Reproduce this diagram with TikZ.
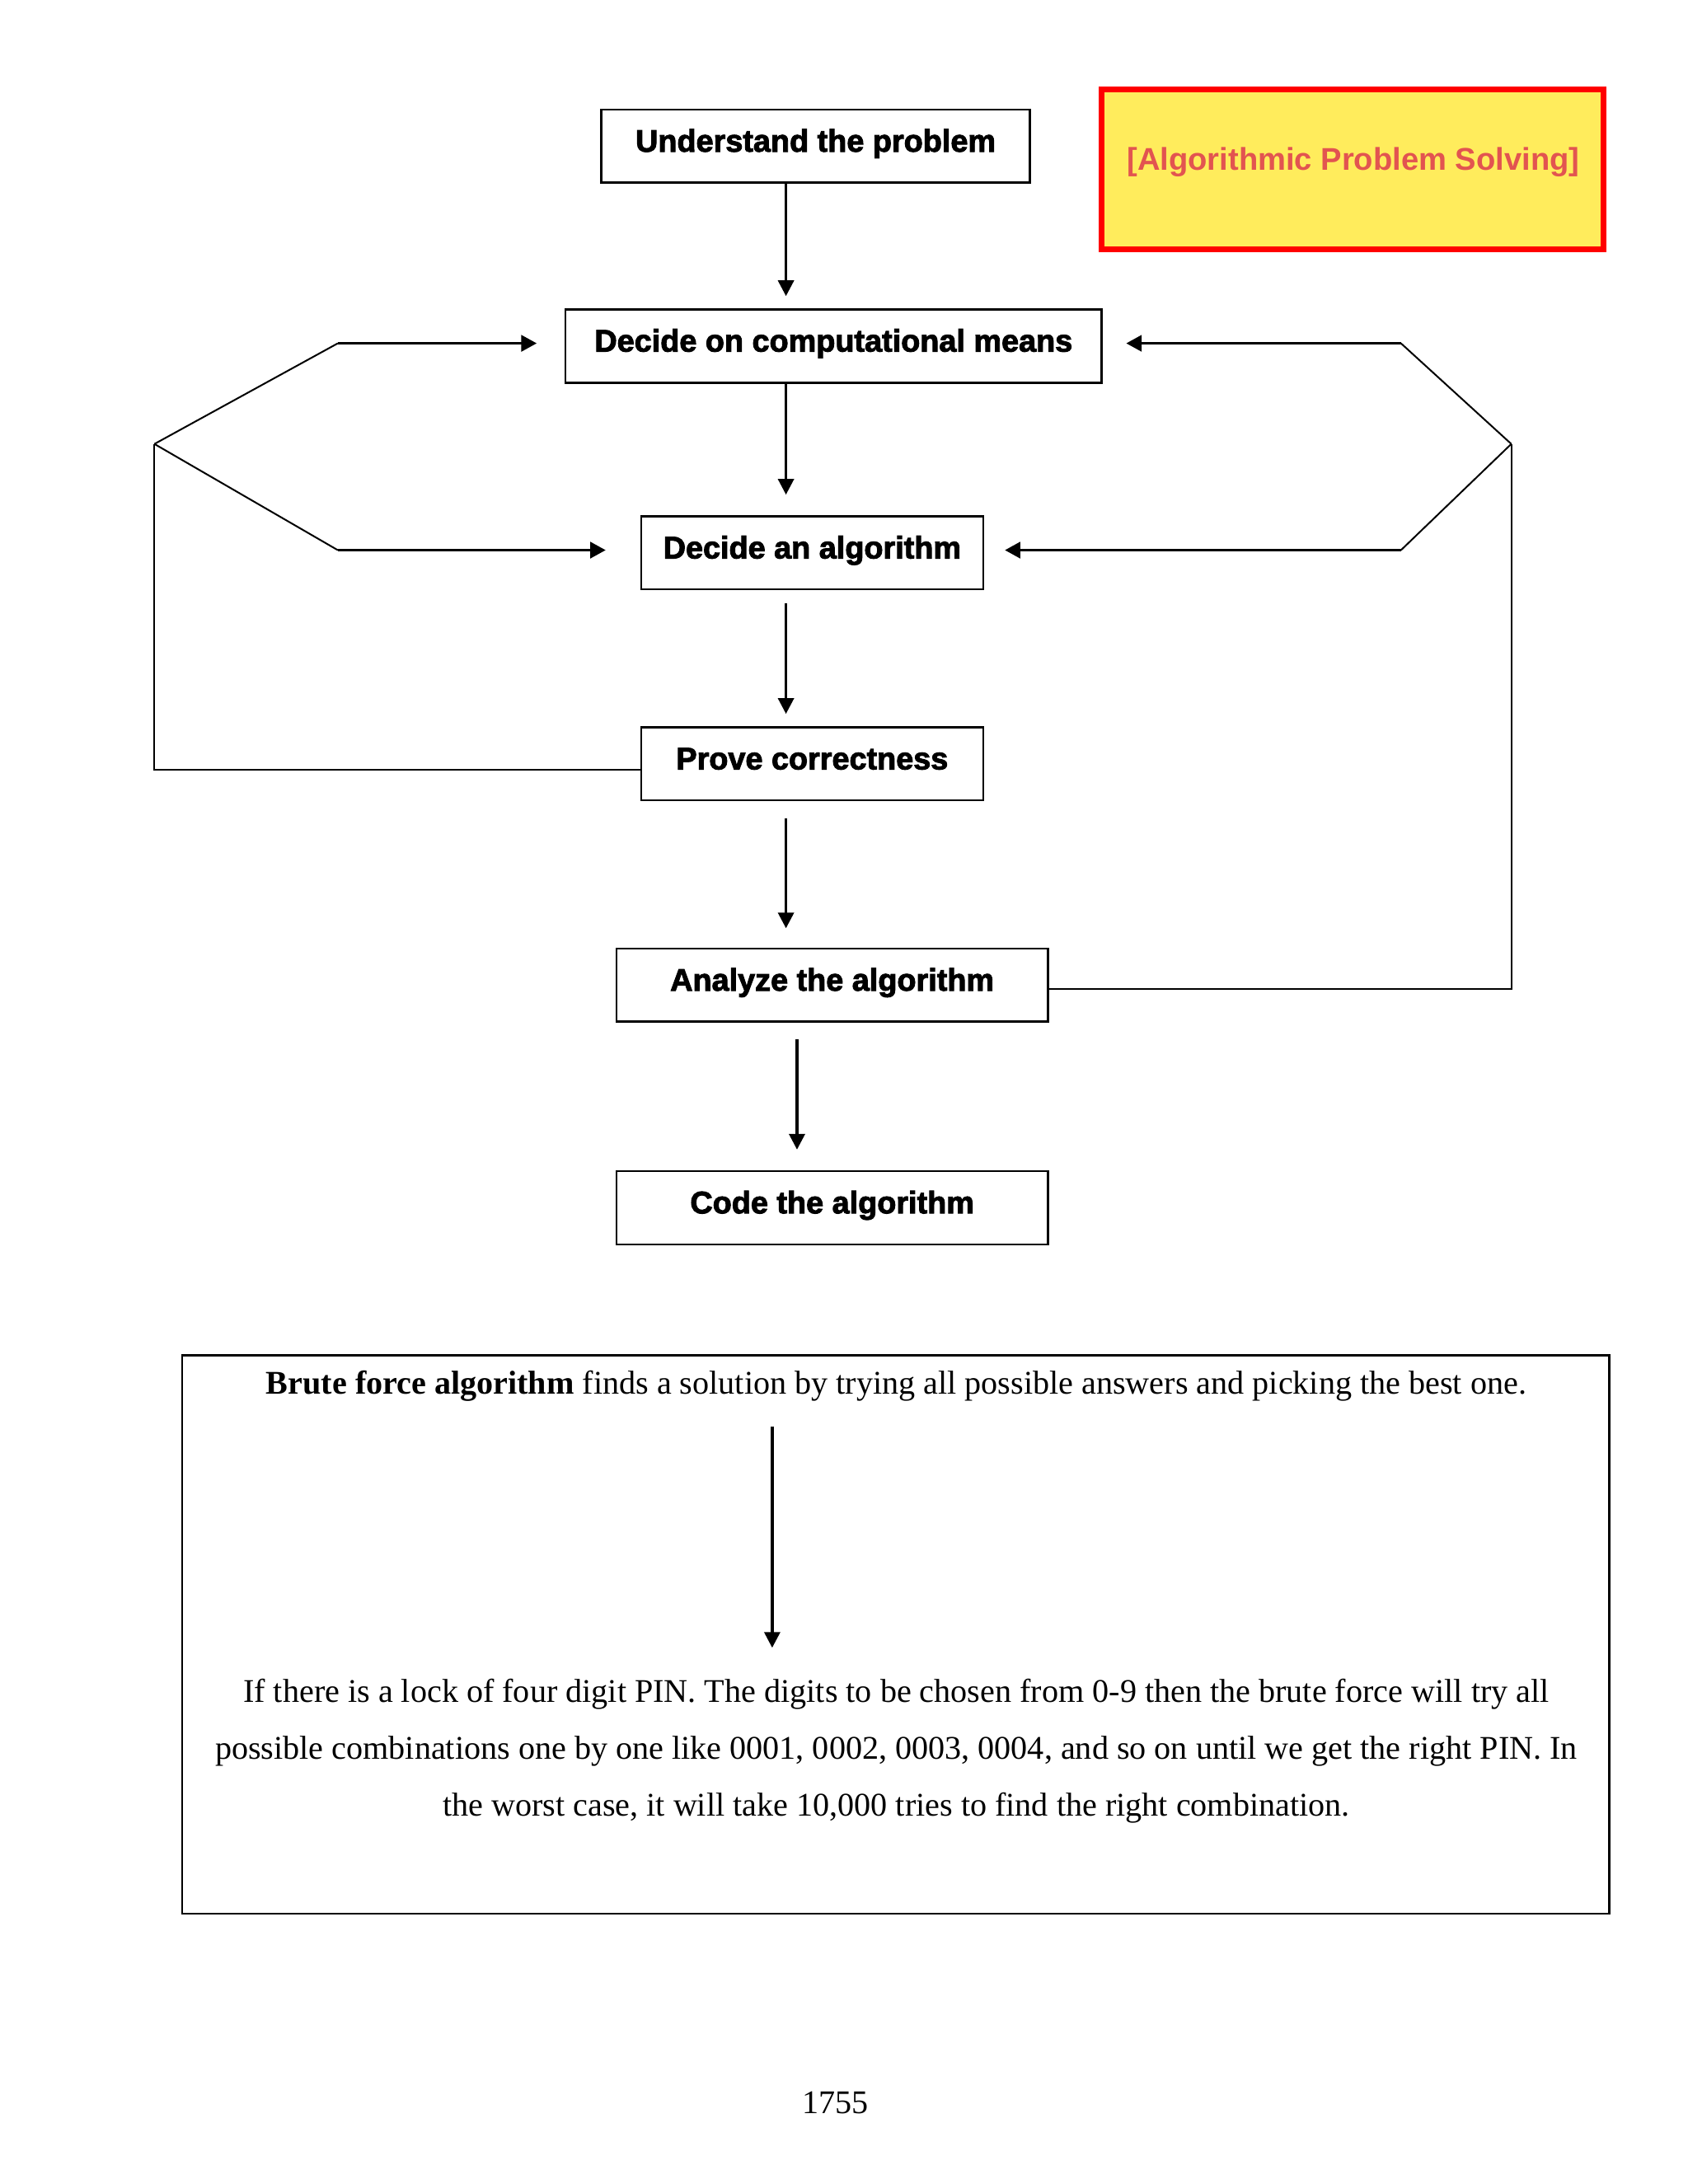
\documentclass[tikz,border=0pt]{standalone}
\usepackage{fontspec}
\setmainfont{Liberation Serif}
\newfontfamily\boxfont{Liberation Sans}[BoldFeatures={FakeBold=2.5}]
\newfontfamily\titlefont{Liberation Sans}
\usetikzlibrary{arrows.meta}
\definecolor{titlefill}{RGB}{255,236,92}
\definecolor{titletext}{RGB}{226,84,80}
\newcommand{\boxlabel}[1]{\smash{\raisebox{-2pt}{#1}}}
\tikzset{
  flowbox/.style={draw, line width=0.75pt, inner sep=0pt, minimum height=26.5pt,
    font=\boxfont\bfseries\fontsize{11.3}{13}\selectfont},
  varrow/.style={line width=1pt, -{Triangle[length=5.7pt,width=5.7pt]}},
  harrow/.style={line width=1.1pt, -{Triangle[length=5.6pt,width=5.8pt]}},
  loopline/.style={line width=0.6pt},
  bodytext/.style={font=\fontsize{12}{20.75}\selectfont, inner sep=0pt}
}
\begin{document}
\begin{tikzpicture}[x=1pt,y=1pt]
\useasboundingbox (0,0) rectangle (612,-792);
\fill[white] (0,0) rectangle (612,-792);

% title box
\node[draw=red, line width=2pt, fill=titlefill, minimum width=182pt, minimum height=58pt, inner sep=0pt] (title) at (490.5,-61.5) {};
\node[text=titletext, font=\titlefont\bfseries\fontsize{11.4}{13}\selectfont, inner sep=0pt] (titletxt) at (490.7,-58.8) {[Algorithmic Problem Solving]};

% flow boxes
\node[flowbox, minimum width=155.5pt] (b1) at (295.75,-53) {\boxlabel{Understand the problem}};
\node[flowbox, minimum width=194.5pt] (b2) at (302.25,-125.5) {\boxlabel{Decide on computational means}};
\node[flowbox, minimum width=124pt] (b3) at (294.5,-200.5) {\boxlabel{Decide an algorithm}};
\node[flowbox, minimum width=124pt] (b4) at (294.5,-277) {\boxlabel{Prove correctness}};
\node[flowbox, minimum width=156.5pt] (b5) at (301.75,-357.25) {\boxlabel{Analyze the algorithm}};
\node[flowbox, minimum width=156.5pt] (b6) at (301.75,-438) {\boxlabel{Code the algorithm}};

\coordinate (ax) at (285,0);
\coordinate (bx) at (289,0);

% vertical arrows
\draw[varrow, shorten >=4.5pt] (b1.south -| ax) -- (b2.north -| ax);
\draw[varrow, shorten >=7.5pt] (b2.south -| ax) -- (b3.north -| ax);
\draw[varrow, shorten <=4.5pt, shorten >=4.5pt] (b3.south -| ax) -- (b4.north -| ax);
\draw[varrow, shorten <=6pt, shorten >=7pt] (b4.south -| ax) -- (b5.north -| ax);
\draw[varrow, shorten <=6pt, shorten >=7.5pt] (b5.south -| bx) -- (b6.north -| bx);

% left loop
\coordinate (L) at (56,-161);
\coordinate (L1) at (122.5,-124.5);
\coordinate (L2) at (122.5,-199.5);
\coordinate (Lb) at (56,-279);
\draw[loopline] ([yshift=-2pt]b4.west) -- (Lb) -- (L);
\draw[loopline] (L) -- (L1);
\draw[loopline] (L) -- (L2);
\draw[harrow, shorten >=10pt] (L1) -- (L1 -| b2.west);
\draw[harrow, shorten >=12.5pt] (L2) -- (L2 -| b3.west);

% right loop
\coordinate (R) at (548,-161);
\coordinate (R1) at (508,-124.5);
\coordinate (R2) at (508,-199.5);
\coordinate (Rb) at (548,-358.5);
\draw[loopline] ([yshift=-1.25pt]b5.east) -- (Rb) -- (R);
\draw[loopline] (R) -- (R1);
\draw[loopline] (R) -- (R2);
\draw[harrow, shorten >=8.5pt] (R1) -- (R1 -| b2.east);
\draw[harrow, shorten >=7.5pt] (R2) -- (R2 -| b3.east);

% text box
\draw[line width=0.75pt] (66,-491.5) rectangle (583.5,-694);
\node[bodytext] (brute) at (325,-502.5) {\textbf{Brute force algorithm} finds a solution by trying all possible answers and picking the best one.};
\node[bodytext, align=center] (pin) at (325,-635) {If there is a lock of four digit PIN. The digits to be chosen from 0-9 then the brute force will try all\\possible combinations one by one like 0001, 0002, 0003, 0004, and so on until we get the right PIN. In\\the worst case, it will take 10,000 tries to find the right combination.};
\draw[varrow] ([yshift=-9pt]brute.south -| 280,0) -- ([yshift=11pt]pin.north -| 280,0);

% page number
\node[font=\fontsize{12}{14}\selectfont, inner sep=0pt] (page) at (303,-762.5) {1755};
\end{tikzpicture}
\end{document}
